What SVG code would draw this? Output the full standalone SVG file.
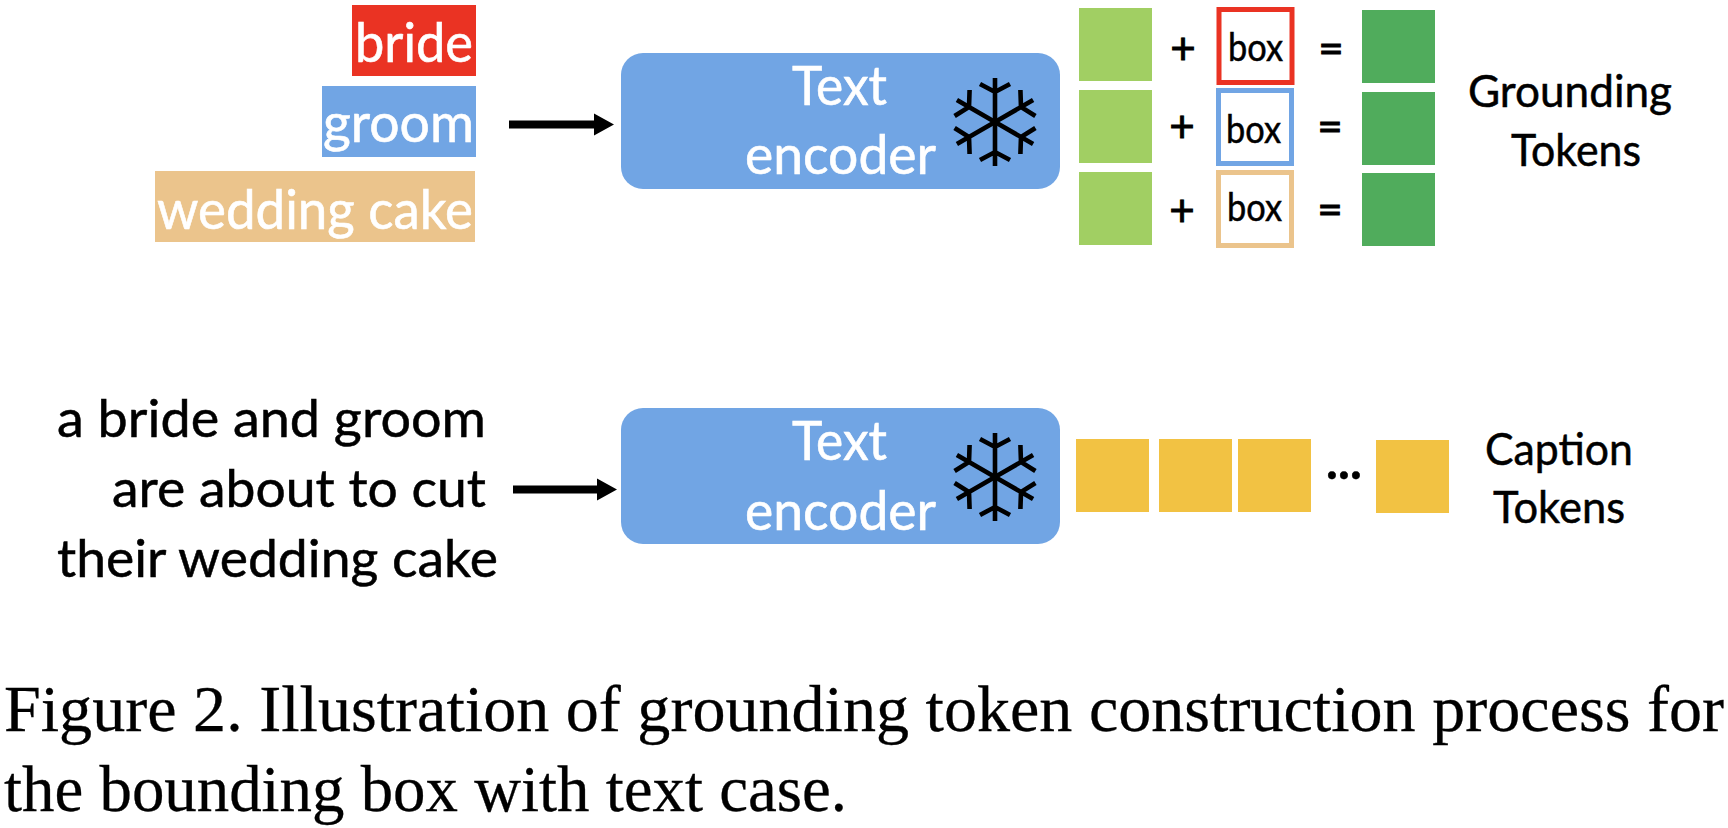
<svg xmlns="http://www.w3.org/2000/svg" width="1728" height="828" viewBox="0 0 1728 828">
<style>
text{font-family:"Lato","Carlito","Noto Sans",sans-serif}
.w{fill:#fff;stroke:#fff;stroke-width:.6}
.k{fill:#000;stroke:#000;stroke-width:.5}
.c{font-family:"Liberation Serif","Times New Roman",serif;font-size:66px;fill:#000;stroke:#000;stroke-width:.3}
.enc{fill:#71A5E4}
.lg{fill:#A1CF63}
.dg{fill:#50AC5C}
.y{fill:#F2C243}
.bx{fill:#fff;stroke-width:5}
.t54{font-size:54px}
.t52{font-size:52px}
.t44{font-size:44px}
.t38{font-size:38px}
.op{font-size:44px;stroke-width:.9}
.dots{font-size:50px;font-weight:700}
.fl{stroke:#000;stroke-width:4.6;fill:none}
.conn{stroke:#000;stroke-width:8;fill:none}
</style>
<defs>
<marker id="ah" markerUnits="userSpaceOnUse" markerWidth="22" markerHeight="24" refX="1" refY="12" orient="auto">
<polygon points="1,1 21,12 1,23" fill="#000"/>
</marker>
<g id="arm" class="fl"><path d="M0 0V-44M-15 -38L0 -30L15 -38"/></g>
<g id="flake">
<use href="#arm"/>
<use href="#arm" transform="rotate(60)"/>
<use href="#arm" transform="rotate(120)"/>
<use href="#arm" transform="rotate(180)"/>
<use href="#arm" transform="rotate(240)"/>
<use href="#arm" transform="rotate(300)"/>
</g>
</defs>
<rect width="1728" height="828" fill="#fff"/>

<g id="connectors">
<line class="conn" x1="509" y1="124.500" x2="594" y2="124.500" marker-end="url(#ah)"/>
<line class="conn" x1="513" y1="489.500" x2="597" y2="489.500" marker-end="url(#ah)"/>
</g>

<g id="label-bride">
<rect x="352" y="5" width="124" height="71" fill="#EA3323"/>
<text class="w t54" x="355" y="62" textLength="118" lengthAdjust="spacingAndGlyphs">bride</text>
</g>
<g id="label-groom">
<rect x="322" y="86" width="154" height="71" class="enc"/>
<text class="w t54" x="323" y="142" textLength="151" lengthAdjust="spacingAndGlyphs">groom</text>
</g>
<g id="label-cake">
<rect x="155" y="171" width="320" height="71" fill="#EBC48C"/>
<text class="w t54" x="157" y="229" textLength="316" lengthAdjust="spacingAndGlyphs">wedding cake</text>
</g>

<g id="encoder-top">
<rect x="621" y="53" width="439" height="136" rx="22" class="enc"/>
<text class="w t54" x="792" y="105" textLength="95" lengthAdjust="spacingAndGlyphs">Text</text>
<text class="w t54" x="745" y="174" textLength="191" lengthAdjust="spacingAndGlyphs">encoder</text>
<use href="#flake" x="995" y="122"/>
</g>

<g id="grounding-row-1">
<rect x="1079" y="8" width="73" height="73" class="lg"/>
<text class="k op" x="1183" y="64" text-anchor="middle">+</text>
<rect x="1219" y="9.500" width="73" height="73" class="bx" stroke="#EA3323"/>
<text class="k t38" x="1228" y="61" textLength="55" lengthAdjust="spacingAndGlyphs">box</text>
<text class="k op" x="1331" y="64" text-anchor="middle">=</text>
<rect x="1362" y="10" width="73" height="73" class="dg"/>
</g>
<g id="grounding-row-2">
<rect x="1079" y="90" width="73" height="73" class="lg"/>
<text class="k op" x="1182" y="142" text-anchor="middle">+</text>
<rect x="1218.500" y="90.500" width="73" height="73" class="bx" stroke="#71A5E4"/>
<text class="k t38" x="1226" y="143" textLength="55" lengthAdjust="spacingAndGlyphs">box</text>
<text class="k op" x="1330" y="142" text-anchor="middle">=</text>
<rect x="1362" y="92" width="73" height="73" class="dg"/>
</g>
<g id="grounding-row-3">
<rect x="1079" y="172" width="73" height="73" class="lg"/>
<text class="k op" x="1182" y="226" text-anchor="middle">+</text>
<rect x="1218.500" y="172.500" width="73" height="73" class="bx" stroke="#EBC48C"/>
<text class="k t38" x="1227" y="221" textLength="55" lengthAdjust="spacingAndGlyphs">box</text>
<text class="k op" x="1330" y="225" text-anchor="middle">=</text>
<rect x="1362" y="173" width="73" height="73" class="dg"/>
</g>
<g id="grounding-label">
<text class="k t44" x="1468" y="107" textLength="204" lengthAdjust="spacingAndGlyphs">Grounding</text>
<text class="k t44" x="1511" y="166" textLength="130" lengthAdjust="spacingAndGlyphs">Tokens</text>
</g>

<g id="caption-input">
<text class="k t52" x="57" y="437" textLength="429" lengthAdjust="spacingAndGlyphs">a bride and groom</text>
<text class="k t52" x="112" y="507" textLength="374" lengthAdjust="spacingAndGlyphs">are about to cut</text>
<text class="k t52" x="57" y="577" textLength="441" lengthAdjust="spacingAndGlyphs">their wedding cake</text>
</g>

<g id="encoder-bottom">
<rect x="621" y="408" width="439" height="136" rx="22" class="enc"/>
<text class="w t54" x="792" y="460" textLength="95" lengthAdjust="spacingAndGlyphs">Text</text>
<text class="w t54" x="745" y="530" textLength="191" lengthAdjust="spacingAndGlyphs">encoder</text>
<use href="#flake" x="995" y="477"/>
</g>

<g id="caption-tokens">
<rect x="1076" y="439" width="73" height="73" class="y"/>
<rect x="1159" y="439" width="73" height="73" class="y"/>
<rect x="1238" y="439" width="73" height="73" class="y"/>
<text class="k dots" x="1326" y="479" textLength="36" lengthAdjust="spacing">...</text>
<rect x="1376" y="440" width="73" height="73" class="y"/>
</g>
<g id="caption-label">
<text class="k t44" x="1485" y="465" textLength="148" lengthAdjust="spacingAndGlyphs">Caption</text>
<text class="k t44" x="1493" y="523" textLength="132" lengthAdjust="spacingAndGlyphs">Tokens</text>
</g>

<g id="figure-caption">
<text class="c" x="4" y="731" textLength="1720" lengthAdjust="spacingAndGlyphs">Figure 2. Illustration of grounding token construction process for</text>
<text class="c" x="4" y="811" textLength="843" lengthAdjust="spacingAndGlyphs">the bounding box with text case.</text>
</g>
</svg>
